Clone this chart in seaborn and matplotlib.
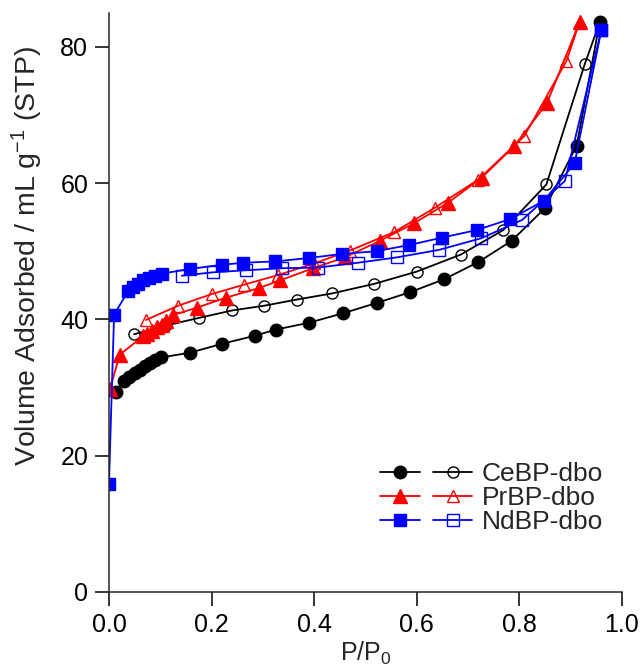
import numpy as np
import pandas as pd
import matplotlib
matplotlib.use("Agg")
import matplotlib.pyplot as plt
import seaborn as sns
from matplotlib.legend_handler import HandlerTuple
from matplotlib.lines import Line2D

# isotherm data (P/P0, volume adsorbed)
ce_ads_x = [0.013, 0.030, 0.040, 0.050, 0.060, 0.070, 0.080, 0.090, 0.102, 0.158, 0.220,
            0.285, 0.326, 0.390, 0.457, 0.522, 0.588, 0.654, 0.720, 0.785, 0.850, 0.912, 0.957]
ce_ads_y = [29.4, 30.9, 31.5, 32.1, 32.6, 33.1, 33.6, 34.0, 34.4, 35.1, 36.4,
            37.6, 38.5, 39.5, 40.9, 42.4, 44.0, 45.9, 48.4, 51.5, 56.3, 65.5, 83.6]
ce_des_x = [0.957, 0.928, 0.853, 0.769, 0.686, 0.600, 0.517, 0.435, 0.366, 0.303, 0.240, 0.175, 0.112, 0.049]
ce_des_y = [83.6, 77.5, 59.8, 53.1, 49.5, 47.0, 45.2, 43.8, 42.9, 42.0, 41.3, 40.2, 39.1, 37.8]

pr_ads_x = [0.002, 0.021, 0.066, 0.075, 0.083, 0.093, 0.103, 0.112, 0.124, 0.171, 0.229,
            0.293, 0.333, 0.398, 0.460, 0.528, 0.595, 0.661, 0.727, 0.790, 0.854, 0.918]
pr_ads_y = [29.8, 34.8, 37.5, 37.9, 38.3, 38.8, 39.2, 39.7, 40.6, 41.7, 43.2,
            44.6, 45.7, 47.5, 49.1, 51.5, 54.1, 57.1, 60.8, 65.4, 71.7, 83.7]
pr_des_x = [0.918, 0.892, 0.810, 0.720, 0.636, 0.556, 0.470, 0.400, 0.330, 0.264, 0.200, 0.135, 0.072]
pr_des_y = [83.7, 77.9, 66.9, 60.5, 56.4, 52.8, 50.1, 48.2, 46.5, 45.1, 43.7, 42.0, 39.9]

nd_ads_x = [0.000, 0.010, 0.038, 0.047, 0.057, 0.067, 0.079, 0.090, 0.103, 0.158, 0.220,
            0.261, 0.324, 0.390, 0.454, 0.522, 0.585, 0.650, 0.717, 0.782, 0.848, 0.908, 0.960]
nd_ads_y = [15.9, 40.7, 44.2, 44.7, 45.2, 45.7, 46.1, 46.4, 46.7, 47.4, 48.0,
            48.3, 48.5, 49.0, 49.6, 50.0, 50.9, 52.0, 53.1, 54.7, 57.4, 62.9, 82.4]
nd_des_x = [0.960, 0.889, 0.806, 0.726, 0.644, 0.562, 0.485, 0.408, 0.337, 0.268, 0.203, 0.142]
nd_des_y = [82.4, 60.3, 54.6, 51.9, 50.2, 49.1, 48.3, 47.6, 47.5, 47.2, 46.9, 46.4]

names = ["CeBP-dbo", "PrBP-dbo", "NdBP-dbo"]
colors = ["black", "red", "blue"]
markers = ["o", "^", "s"]
fill_size = {"o": 9, "^": 10, "s": 9}
open_size = {"o": 8, "^": 9, "s": 8}

sns.set_style("ticks")
plt.rcParams["font.family"] = ["Liberation Sans", "DejaVu Sans"]
plt.rcParams["mathtext.default"] = "regular"

fig = plt.figure(figsize=(6.41, 6.71), dpi=100, facecolor="white")
ax = fig.add_axes([0.170, 0.118, 0.800, 0.863])

series = [(ce_ads_x, ce_ads_y, ce_des_x, ce_des_y),
          (pr_ads_x, pr_ads_y, pr_des_x, pr_des_y),
          (nd_ads_x, nd_ads_y, nd_des_x, nd_des_y)]

handles = []
for (ax_, ay_, dx_, dy_), name, c, m in zip(series, names, colors, markers):
    des = pd.DataFrame({"P": dx_, "V": dy_})
    ads = pd.DataFrame({"P": ax_, "V": ay_})
    sns.lineplot(data=des, x="P", y="V", ax=ax, sort=False, estimator=None, color=c,
                 lw=1.3, marker=m, markersize=open_size[m], markerfacecolor="none",
                 markeredgecolor=c, markeredgewidth=1.0)
    sns.lineplot(data=ads, x="P", y="V", ax=ax, sort=False, estimator=None, color=c,
                 lw=1.3, marker=m, markersize=fill_size[m], markerfacecolor=c,
                 markeredgecolor=c, markeredgewidth=1.0)
    h_fill = Line2D([], [], color=c, lw=1.3, marker=m, markersize=fill_size[m], markerfacecolor=c)
    h_open = Line2D([], [], color=c, lw=1.3, marker=m, markersize=open_size[m],
                    markerfacecolor="none", markeredgewidth=1.0)
    handles.append((h_fill, h_open))

ax.set_xlim(0, 1.0)
ax.set_ylim(0, 85)
ax.set_xticks([0.0, 0.2, 0.4, 0.6, 0.8, 1.0])
ax.set_xticklabels(["0.0", "0.2", "0.4", "0.6", "0.8", "1.0"])
ax.set_yticks([0, 20, 40, 60, 80])
ax.spines["right"].set_visible(False)
ax.spines["top"].set_visible(False)
for s in ["left", "bottom"]:
    ax.spines[s].set_linewidth(1.1)
ax.tick_params(direction="out", length=10, width=1.1, labelsize=18, pad=5, colors="black")

ax.set_xlabel("P/P$_0$", fontsize=18, labelpad=2)
ax.set_ylabel("Volume Adsorbed / mL g$^{-1}$ (STP)", fontsize=20.5)
ax.yaxis.set_label_coords(-0.125, 0.58)

ax.legend(handles, names, handler_map={tuple: HandlerTuple(ndivide=None, pad=0.5)},
          handlelength=3.5, frameon=False, fontsize=19, loc="lower right",
          bbox_to_anchor=(0.963, 0.10), labelspacing=0.0, handletextpad=0.35,
          borderaxespad=0, borderpad=0)

fig.savefig("out.png", dpi=100, facecolor="white")
